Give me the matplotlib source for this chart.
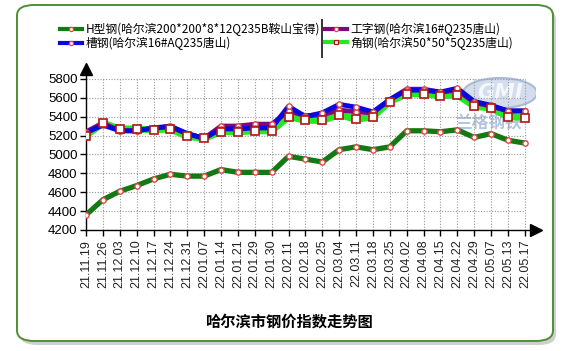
import matplotlib
matplotlib.use("Agg")
import matplotlib.pyplot as plt
from matplotlib.patches import FancyBboxPatch, Ellipse
from matplotlib.lines import Line2D

plt.rcParams['font.family'] = ['Noto Sans CJK SC', 'DejaVu Sans']

W, H = 572, 351

dates = ["21.11.19", "21.11.26", "21.12.03", "21.12.10", "21.12.17", "21.12.24",
         "21.12.31", "22.01.07", "22.01.14", "22.01.21", "22.01.29", "22.01.30",
         "22.02.11", "22.02.18", "22.02.25", "22.03.04", "22.03.11", "22.03.18",
         "22.03.25", "22.04.02", "22.04.08", "22.04.15", "22.04.22", "22.04.29",
         "22.05.07", "22.05.13", "22.05.17"]

h_beam = [4360, 4520, 4610, 4670, 4740, 4790, 4770, 4770, 4840, 4810, 4810, 4810,
          4980, 4950, 4920, 5050, 5080, 5050, 5080, 5250, 5250, 5240, 5260, 5180,
          5220, 5150, 5120]
channel = [5230, 5310, 5250, 5250, 5280, 5300, 5220, 5170, 5270, 5270, 5280, 5280,
           5510, 5400, 5440, 5530, 5500, 5450, 5580, 5680, 5680, 5660, 5700, 5560,
           5520, 5460, 5460]
i_beam = [5240, 5330, 5250, 5250, 5280, 5290, 5220, 5170, 5300, 5300, 5320, 5320,
          5460, 5410, 5420, 5470, 5450, 5440, 5580, 5690, 5690, 5660, 5680, 5550,
          5510, 5460, 5460]
angle = [5200, 5330, 5270, 5270, 5260, 5270, 5190, 5170, 5240, 5240, 5250, 5250,
         5400, 5360, 5360, 5420, 5370, 5400, 5560, 5640, 5640, 5620, 5630, 5510,
         5490, 5400, 5390]

yticks = [4200, 4400, 4600, 4800, 5000, 5200, 5400, 5600, 5800]

names = ["H型钢(哈尔滨200*200*8*12Q235B鞍山宝得)", "槽钢(哈尔滨16#AQ235唐山)",
         "工字钢(哈尔滨16#Q235唐山)", "角钢(哈尔滨50*50*5Q235唐山)"]
title = "哈尔滨市钢价指数走势图"


def fx(x):
    return x / W


def fy(y):
    return 1 - y / H


fig = plt.figure(figsize=(W / 100, H / 100), dpi=100)
fig.patch.set_facecolor("white")

# outer rounded frame with shadow
shadow = FancyBboxPatch((fx(20), fy(345)), fx(536), 336 / H,
                        boxstyle="round,pad=0,rounding_size=0.03",
                        transform=fig.transFigure, facecolor="#b0b0b0",
                        edgecolor="none", alpha=0.6, zorder=-2)
frame = FancyBboxPatch((fx(17), fy(341)), fx(536), 336 / H,
                       boxstyle="round,pad=0,rounding_size=0.03",
                       transform=fig.transFigure, facecolor="white",
                       edgecolor="#4f8f2f", linewidth=1.4, zorder=-1)
fig.patches.extend([shadow, frame])

ax = fig.add_axes([fx(86), fy(230), fx(450), 161 / H])
ax.set_facecolor("none")

x = list(range(len(dates)))

# watermark logo
logo = Ellipse((fx(500), fy(93)), fx(74), 30 / H, transform=fig.transFigure,
               facecolor="#d3ddee", edgecolor="#a9bbd8", linewidth=1.5, zorder=0.2)
ax.add_patch(logo)
ax.text(fx(500), fy(93), "GMI", transform=fig.transFigure, ha="center", va="center",
        fontsize=15, fontweight="bold", style="italic", color="#f4f7fc",
        family=["DejaVu Sans"], zorder=0.3)
ax.text(fx(488), fy(123), "兰格钢铁", transform=fig.transFigure, ha="center",
        va="center", fontsize=12, fontweight="bold", color="#b3c4de", zorder=0.3)

# grid only up to 5800
ax.vlines(x, yticks[0], yticks[-1], colors="#9a9a9a", linestyles=(0, (1, 1.5)),
          linewidth=0.8, zorder=0.5)
ax.hlines(yticks[1:], 0, x[-1], colors="#9a9a9a", linestyles=(0, (1, 1.5)),
          linewidth=0.8, zorder=0.5)

ax.plot(x, angle, color="#25e825", lw=5, zorder=2)
ax.plot(x, i_beam, color="#7d0a7d", lw=3.5, zorder=3)
ax.plot(x, channel, color="#0808e0", lw=3.5, zorder=4)
ax.plot(x, h_beam, color="#137a13", lw=3.8, zorder=5)

small = dict(marker="o", ms=3.8, mfc="white", mec="#e04848", mew=1.0, ls="none")
ax.plot(x, i_beam, zorder=6, **small)
ax.plot(x, channel, zorder=6, **small)
ax.plot(x, h_beam, zorder=6, **small)
ax.plot(x, angle, ls="none", marker="s", ms=5.2, mfc="white", mec="#b01515",
        mew=1.2, zorder=7)

ax.set_xlim(0, 26.66)
ax.set_ylim(4200, 5904)
ax.set_xticks(x)
ax.set_xticklabels(dates, rotation=90, fontsize=9, family=["Liberation Sans"],
                   color="#222222")
ax.set_yticks(yticks)
ax.set_yticklabels([str(v) for v in yticks], fontsize=9.5, family=["Liberation Sans"])
ax.tick_params(axis="both", direction="out", length=4, width=1, color="black", pad=2)
ax.tick_params(axis="x", pad=3)

for s in ["top", "right"]:
    ax.spines[s].set_visible(False)
for s in ["left", "bottom"]:
    ax.spines[s].set_color("black")
    ax.spines[s].set_linewidth(1)

ax.plot(1, 0, ">k", ms=9, transform=ax.transAxes, clip_on=False)
ax.plot(0, 1, "^k", ms=9, transform=ax.transAxes, clip_on=False)

# legend in two groups with a divider
def handle(color, lw, marker, ms, mec):
    return Line2D([0], [0], color=color, lw=lw, marker=marker, ms=ms,
                  mfc="white", mec=mec, mew=0.9)

h1 = [handle("#137a13", 3, "o", 3, "#e04848"), handle("#0808e0", 3, "o", 3, "#e04848")]
h2 = [handle("#7d0a7d", 3, "o", 3, "#e04848"), handle("#25e825", 3, "s", 3.5, "#b01515")]

leg_kw = dict(frameon=False, fontsize=8.5, handlelength=1.85, handletextpad=0.3,
              labelspacing=0.0, borderpad=0, borderaxespad=0, numpoints=1)
leg1 = fig.legend(h1, names[:2], loc="upper left", bbox_to_anchor=(fx(60), fy(23)), **leg_kw)
leg2 = fig.legend(h2, names[2:], loc="upper left", bbox_to_anchor=(fx(325), fy(23)), **leg_kw)

fig.add_artist(Line2D([fx(322), fx(322)], [fy(20), fy(57)], color="#333333", lw=1.4))

fig.text(fx(289), fy(322), title, ha="center", va="center", fontsize=11,
         fontweight="bold", color="black")

fig.savefig("out.png", dpi=100, facecolor="white")
